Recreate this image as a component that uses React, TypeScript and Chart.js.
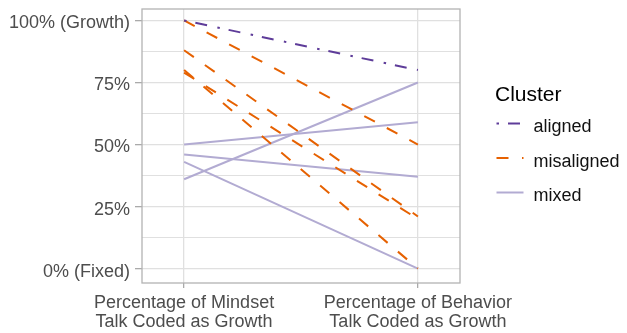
import React, { useEffect, useRef } from 'react';
import { Chart, registerables } from 'chart.js';

Chart.register(...registerables);

// ---- data ----
const xPositions = [0, 1];
const xLabels = [
  ['Percentage of Mindset', 'Talk Coded as Growth'],
  ['Percentage of Behavior', 'Talk Coded as Growth'],
];
const yTickValues = [0, 12.5, 25, 37.5, 50, 62.5, 75, 87.5, 100];
const yMajorValues = [0, 25, 50, 75, 100];
const yTickLabels = ['0% (Fixed)', '25%', '50%', '75%', '100% (Growth)'];

const legendTitle = 'Cluster';
const clusters = ['aligned', 'misaligned', 'mixed'];

const alignedMindset = [100];
const alignedBehavior = [80];
const misalignedMindset = [100, 88, 79, 80];
const misalignedBehavior = [50, 21, 20, 0];
const mixedMindset = [36, 50, 46, 43];
const mixedBehavior = [75, 59, 37, 0];

// ---- styles ----
const FONT = 'Liberation Sans';
const clusterColors: Record<string, string> = {
  aligned: '#5e3c99',
  misaligned: '#e66101',
  mixed: '#b2abd2',
};
const clusterDash: Record<string, number[]> = {
  aligned: [2.5, 9, 12, 10.5],
  misaligned: [12, 13.5],
  mixed: [],
};
const clusterOrder: Record<string, number> = { aligned: 0, misaligned: 1, mixed: 2 };

function makeSets(cluster: string, starts: number[], ends: number[]) {
  return starts.map((s, i) => ({
    label: cluster,
    data: [
      { x: xPositions[0], y: s },
      { x: xPositions[1], y: ends[i] },
    ],
    borderColor: clusterColors[cluster],
    backgroundColor: clusterColors[cluster],
    borderWidth: 2,
    borderDash: clusterDash[cluster],
    borderCapStyle: 'butt',
    pointRadius: 0,
    pointHoverRadius: 0,
    tension: 0,
    fill: false,
    order: clusterOrder[cluster],
  }));
}

const isMajor = (v: number) => yMajorValues.indexOf(v) >= 0;

const panelAndLegend = {
  id: 'panelAndLegend',
  beforeDatasetsDraw(chart: any) {
    const { ctx, chartArea } = chart;
    ctx.save();
    ctx.strokeStyle = '#b3b3b3';
    ctx.lineWidth = 1.3;
    ctx.setLineDash([]);
    ctx.strokeRect(chartArea.left, chartArea.top, chartArea.right - chartArea.left, chartArea.bottom - chartArea.top);
    ctx.restore();
  },
  afterDraw(chart: any) {
    const { ctx } = chart;
    ctx.save();
    ctx.fillStyle = '#000';
    ctx.textBaseline = 'alphabetic';
    ctx.textAlign = 'left';
    ctx.font = `21px "${FONT}"`;
    ctx.fillText(legendTitle, 495, 100.7);
    const keyY = [123.5, 158, 192.5];
    clusters.forEach((c, i) => {
      ctx.beginPath();
      ctx.setLineDash(clusterDash[c]);
      ctx.lineDashOffset = 0;
      ctx.lineCap = 'butt';
      ctx.strokeStyle = clusterColors[c];
      ctx.lineWidth = 2;
      ctx.moveTo(496.5, keyY[i]);
      ctx.lineTo(523.5, keyY[i]);
      ctx.stroke();
      ctx.setLineDash([]);
      ctx.font = `18px "${FONT}"`;
      ctx.fillStyle = '#111';
      ctx.fillText(c, 533.5, keyY[i] + 8.6);
    });
    ctx.restore();
  },
};

export default function App() {
  const ref = useRef<HTMLCanvasElement>(null);
  useEffect(() => {
    const datasets = [
      ...makeSets('aligned', alignedMindset, alignedBehavior),
      ...makeSets('misaligned', misalignedMindset, misalignedBehavior),
      ...makeSets('mixed', mixedMindset, mixedBehavior),
    ];
    const chart = new Chart(ref.current as HTMLCanvasElement, {
      type: 'line',
      data: { datasets: datasets as any },
      plugins: [panelAndLegend as any],
      options: {
        animation: false,
        responsive: false,
        devicePixelRatio: 1,
        layout: { padding: { top: 9, right: 167, left: 0, bottom: 0 } },
        plugins: {
          legend: { display: false },
          tooltip: { enabled: false },
        },
        events: [],
        scales: {
          x: {
            type: 'linear',
            min: -0.18,
            max: 1.18,
            afterBuildTicks: (s: any) => {
              s.ticks = xPositions.map((v) => ({ value: v }));
            },
            afterFit: (s: any) => {
              s.height = 50;
              s.paddingLeft = 0;
              s.paddingRight = 0;
            },
            ticks: {
              callback: (v: any) => {
                const i = xPositions.indexOf(Number(v));
                return i >= 0 ? xLabels[i] : '';
              },
              autoSkip: false,
              maxRotation: 0,
              minRotation: 0,
              padding: 5.5,
              color: '#4d4d4d',
              font: { family: FONT, size: 18, lineHeight: 1.06 },
            },
            grid: {
              color: '#e0e0e0',
              lineWidth: 1.3,
              tickLength: 5,
              tickColor: '#aaaaaa',
              tickWidth: 1.3,
            },
            border: { display: false },
          },
          y: {
            type: 'linear',
            min: -5.8,
            max: 104.6,
            afterBuildTicks: (s: any) => {
              s.ticks = yTickValues.map((v) => ({ value: v }));
            },
            afterFit: (s: any) => {
              s.width = 142;
              s.paddingTop = 0;
              s.paddingBottom = 0;
            },
            ticks: {
              callback: (v: any) => {
                const i = yMajorValues.indexOf(Number(v));
                return i >= 0 ? yTickLabels[i] : '';
              },
              autoSkip: false,
              padding: 5,
              labelOffset: 3,
              color: '#4d4d4d',
              font: { family: FONT, size: 18 },
            },
            grid: {
              color: '#e0e0e0',
              lineWidth: (c: any) => (isMajor(c.tick?.value) ? 1.3 : 1),
              tickLength: 7,
              tickColor: (c: any) => (isMajor(c.tick?.value) ? '#aaaaaa' : 'rgba(0,0,0,0)'),
              tickWidth: 1.3,
            },
            border: { display: false },
          },
        },
      } as any,
    });
    return () => chart.destroy();
  }, []);
  return (
    <div style={{ position: 'fixed', left: 0, top: 0, width: 627, height: 333, background: '#fff' }}>
      <canvas ref={ref} width={627} height={333} style={{ display: 'block', width: 627, height: 333 }} />
    </div>
  );
}
